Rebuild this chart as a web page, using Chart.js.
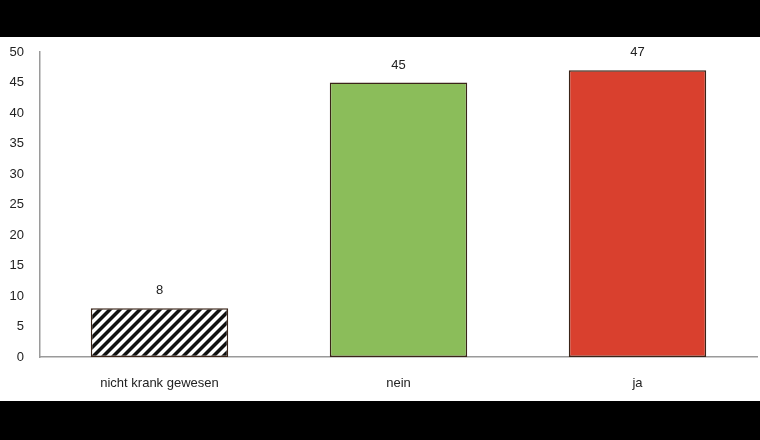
<!DOCTYPE html>
<html>
<head>
<meta charset="utf-8">
<script src="https://cdn.jsdelivr.net/npm/chart.js@4"></script>
<style>
  html, body { margin: 0; padding: 0; background: #000; }
  #wrap { position: absolute; left: 0; top: 37px; width: 760px; height: 364px; background: #fff; }
</style>
</head>
<body>
<div id="wrap"><canvas id="chart" width="760" height="364"></canvas></div>
<script>
// chart data
var categories = ['nicht krank gewesen', 'nein', 'ja'];
var values = [8, 45, 47];
var yTicks = [0, 5, 10, 15, 20, 25, 30, 35, 40, 45, 50];

function makeHatch() {
    var c = document.createElement('canvas');
    c.width = 10;
    c.height = 10;
    var g = c.getContext('2d');
    g.fillStyle = '#fff';
    g.fillRect(0, 0, 10, 10);
    g.fillStyle = '#111';
    var w = 5;
    // "/" stripes as filled bands so the tile wraps cleanly
    for (var o = -10; o <= 10; o += 10) {
        g.beginPath();
        g.moveTo(o, 10);
        g.lineTo(o + w, 10);
        g.lineTo(o + w + 10, 0);
        g.lineTo(o + 10, 0);
        g.closePath();
        g.fill();
    }
    return g.createPattern(c, 'repeat');
}

var ctx = document.getElementById('chart').getContext('2d');

// value labels above the bars
var valueLabels = {
    id: 'valueLabels',
    afterDatasetsDraw: function(chart) {
        var c = chart.ctx;
        var meta = chart.getDatasetMeta(0);
        c.save();
        c.font = '13px "Liberation Sans", Arial, sans-serif';
        c.fillStyle = '#222';
        c.textAlign = 'center';
        c.textBaseline = 'bottom';
        meta.data.forEach(function(bar, i) {
            c.fillText(values[i], bar.x, bar.y - 11);
        });
        c.restore();
    }
};

new Chart(ctx, {
    type: 'bar',
    data: {
        labels: categories,
        datasets: [{
            data: values,
            backgroundColor: [makeHatch(), '#8bbd5a', '#d9402e'],
            borderColor: '#3a2418',
            borderWidth: 1.5,
            borderSkipped: false,
            categoryPercentage: 1,
            barPercentage: 0.575
        }]
    },
    options: {
        responsive: false,
        animation: false,
        layout: { padding: { top: 15, right: 3, left: 0, bottom: 0 } },
        plugins: {
            legend: { display: false },
            tooltip: { enabled: false }
        },
        scales: {
            x: {
                grid: { display: false, drawTicks: false },
                border: { color: '#9a9a9a', width: 1.5 },
                ticks: {
                    color: '#222',
                    padding: 19,
                    maxRotation: 0,
                    font: { family: '"Liberation Sans", Arial, sans-serif', size: 13 }
                },
                afterFit: function(scale) { scale.height = 44; }
            },
            y: {
                min: 0,
                max: 50,
                afterBuildTicks: function(scale) {
                    scale.ticks = yTicks.map(function(v) { return { value: v }; });
                },
                grid: { display: false, drawTicks: false },
                border: { color: '#9a9a9a', width: 1.5 },
                ticks: {
                    color: '#222',
                    padding: 16,
                    font: { family: '"Liberation Sans", Arial, sans-serif', size: 13 }
                },
                afterFit: function(scale) {
                    scale.width = 40;
                    scale.paddingTop = 0;
                    scale.paddingBottom = 0;
                }
            }
        }
    },
    plugins: [valueLabels]
});
</script>
</body>
</html>
